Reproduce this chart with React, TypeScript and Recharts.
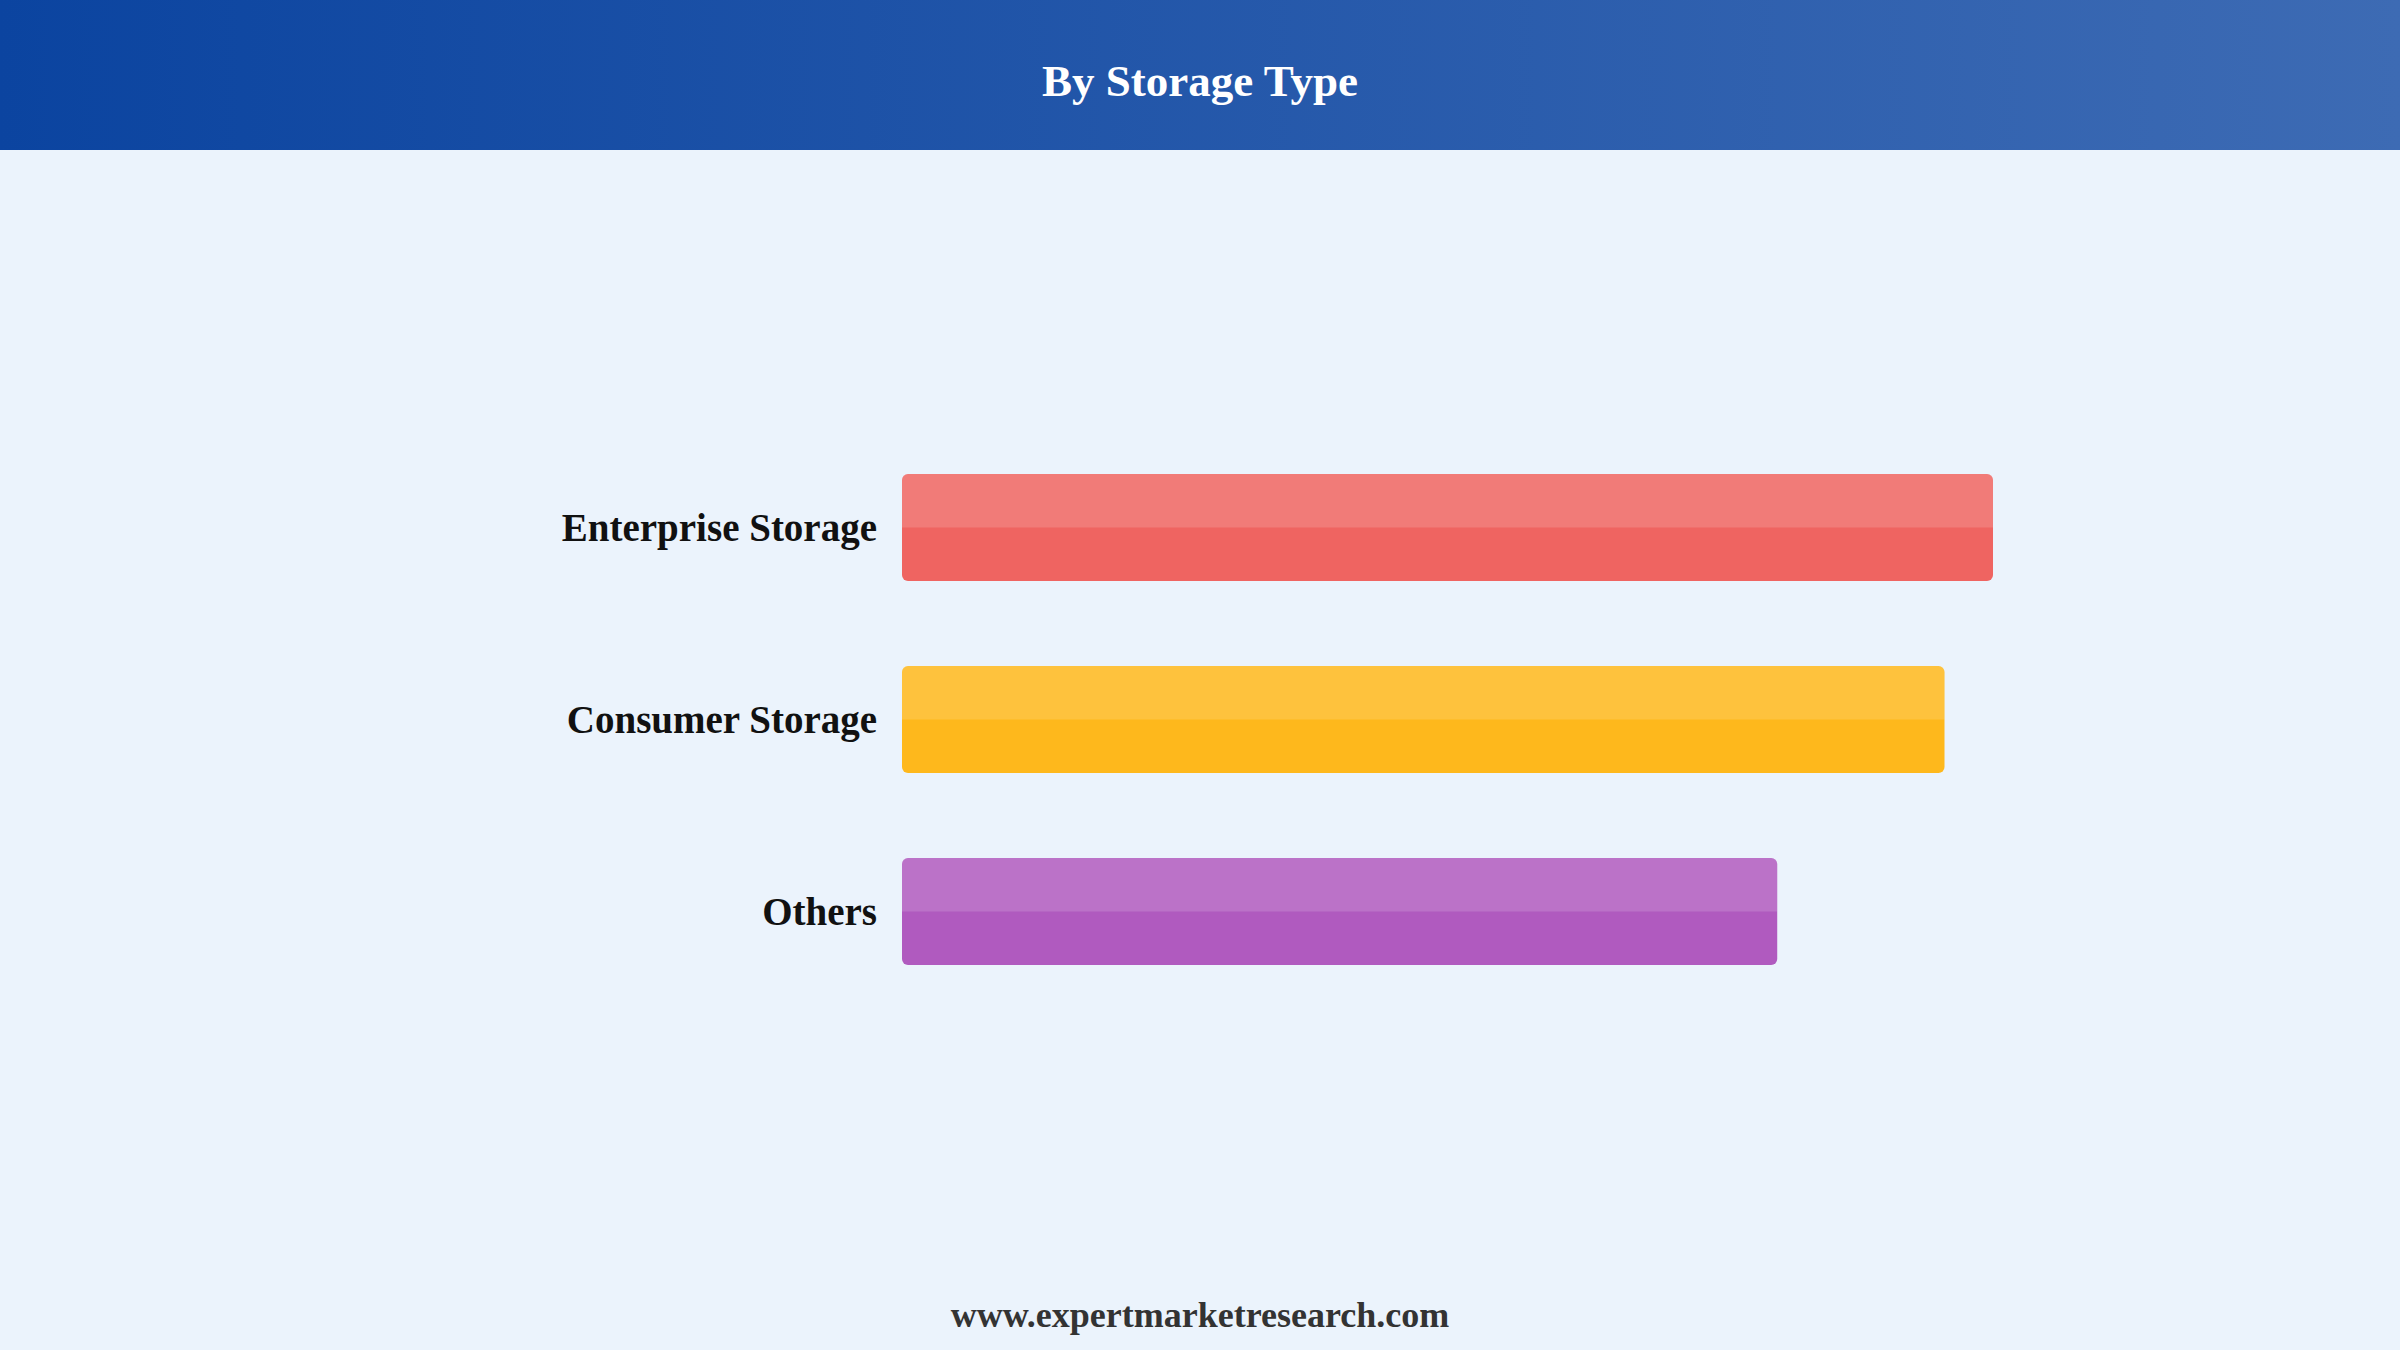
import React from 'react';
import { BarChart, Bar, XAxis, YAxis, Cell } from 'recharts';

const categories = ['Enterprise Storage', 'Consumer Storage', 'Others'];
const shareValues = [45, 43, 36.1];
const barColors = ['#EF6461', '#FEB81C', '#B05ABF'];

const data = categories.map((name, i) => ({ name, value: shareValues[i] }));

const serif = '"Liberation Serif", "Times New Roman", serif';

// two-tone bar: base colour, with a white wash over the upper half
const SplitBar: React.FC<any> = ({ x, y, width, height, fill }) => {
    if (!width || !height) return null;
    const r = 6;
    const half = height / 2;
    const topPath = `M${x},${y + half} L${x},${y + r} Q${x},${y} ${x + r},${y} L${x + width - r},${y} Q${x + width},${y} ${x + width},${y + r} L${x + width},${y + half} Z`;
    return (
        <g>
            <rect x={x} y={y} width={width} height={height} rx={r} ry={r} fill={fill} />
            <path d={topPath} fill="#ffffff" fillOpacity={0.15} />
        </g>
    );
};

export default function App() {
    return (
        <div style={{ position: 'absolute', left: 0, top: 0, width: 2400, height: 1350, background: '#EBF3FC', overflow: 'hidden' }}>
            <div style={{ position: 'absolute', left: 0, top: 0 }}>
                <BarChart
                    width={2400}
                    height={1350}
                    data={data}
                    layout="vertical"
                    margin={{ top: 431, right: 407, bottom: 343, left: 502 }}
                >
                    <XAxis type="number" domain={[0, 45]} hide />
                    <YAxis
                        type="category"
                        dataKey="name"
                        width={400}
                        axisLine={false}
                        tickLine={false}
                        tickSize={0}
                        tickMargin={25}
                        tick={{ fill: '#111111', fontSize: 39, fontWeight: 700, fontFamily: serif }}
                    />
                    <Bar dataKey="value" barSize={107} shape={<SplitBar />} isAnimationActive={false}>
                        {data.map((d, i) => (
                            <Cell key={d.name} fill={barColors[i]} />
                        ))}
                    </Bar>
                </BarChart>
            </div>
            <div
                style={{
                    position: 'absolute', left: 0, top: 0, width: 2400, height: 150,
                    background: 'linear-gradient(to right, #0B44A0, #3D6BB4)',
                    display: 'flex', alignItems: 'center', justifyContent: 'center',
                }}
            >
                <span style={{ color: '#ffffff', fontFamily: serif, fontWeight: 700, fontSize: 45, position: 'relative', top: 6 }}>
                    By Storage Type
                </span>
            </div>
            <div
                style={{
                    position: 'absolute', left: 0, top: 1293, width: 2400, height: 44, lineHeight: '44px',
                    textAlign: 'center', color: '#333333', fontFamily: serif, fontWeight: 700, fontSize: 36,
                }}
            >
                www.expertmarketresearch.com
            </div>
        </div>
    );
}
